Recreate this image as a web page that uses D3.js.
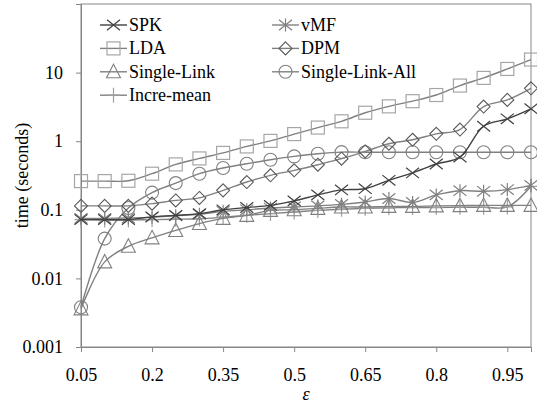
<!DOCTYPE html>
<html><head><meta charset="utf-8">
<script src="https://cdn.jsdelivr.net/npm/d3@7"></script>
<style>body{margin:0;background:#fff}svg{display:block}text{font-family:"Liberation Serif","Times New Roman",serif;fill:#000}</style>
</head><body><svg id="c" width="537" height="405"></svg>
<script>
const epsilons = [0.05,0.1,0.15,0.2,0.25,0.3,0.35,0.4,0.45,0.5,0.55,0.6,0.65,0.7,0.75,0.8,0.85,0.9,0.95,1.0];
const xTicks = [0.05,0.2,0.35,0.5,0.65,0.8,0.95];
const yTicks = [0.001,0.01,0.1,1,10];
const yTickLabels = ["0.001","0.01","0.1","1","10"];
const spk = [0.072,0.072,0.072,0.079,0.083,0.088,0.1,0.108,0.116,0.135,0.165,0.195,0.203,0.269,0.345,0.465,0.587,1.65,2.12,2.97];
const vmf = [0.075,0.075,0.076,0.078,0.082,0.086,0.095,0.1,0.106,0.11,0.114,0.12,0.13,0.146,0.128,0.165,0.19,0.186,0.197,0.227];
const lda = [0.262,0.262,0.265,0.336,0.459,0.561,0.675,0.839,1.01,1.27,1.58,1.95,2.6,3.22,3.83,4.71,6.47,8.37,11.3,15.5];
const dpm = [0.114,0.114,0.114,0.123,0.137,0.149,0.192,0.254,0.318,0.376,0.454,0.556,0.71,0.918,1.05,1.28,1.48,3.2,4.0,5.9];
const singleLink = [0.0036,0.0174,0.0294,0.039,0.05,0.063,0.075,0.083,0.098,0.1,0.105,0.11,0.11,0.112,0.112,0.114,0.115,0.116,0.116,0.116];
const singleLinkAll = [0.0038,0.038,0.106,0.178,0.245,0.336,0.406,0.47,0.537,0.6,0.656,0.693,0.69,0.69,0.69,0.69,0.69,0.69,0.69,0.69];
const increMean = [0.072,0.071,0.071,0.072,0.073,0.074,0.078,0.083,0.088,0.093,0.098,0.102,0.105,0.107,0.108,0.108,0.109,0.109,0.11,0.22];

const series = [
  {name:"SPK", values:spk, marker:"x", line:"#404040", mk:"#404040"},
  {name:"vMF", values:vmf, marker:"star", line:"#808080", mk:"#808080"},
  {name:"LDA", values:lda, marker:"square", line:"#808080", mk:"#a6a6a6"},
  {name:"DPM", values:dpm, marker:"diamond", line:"#808080", mk:"#595959"},
  {name:"Single-Link", values:singleLink, marker:"triangle", line:"#808080", mk:"#808080"},
  {name:"Single-Link-All", values:singleLinkAll, marker:"circle", line:"#808080", mk:"#808080"},
  {name:"Incre-mean", values:increMean, marker:"plus", line:"#808080", mk:"#a0a0a0"}
];

const svg = d3.select("#c");
const L=81, R=531, T=4, B=347;
const x = d3.scaleLinear().domain([0.05,1.0]).range([L,R]);
const y = d3.scaleLog().domain([0.001,100]).range([B,T]);

svg.append("rect").attr("x",L).attr("y",T).attr("width",R-L).attr("height",B-T)
  .attr("fill","none").attr("stroke","#868686").attr("stroke-width",1);

const yAxis = svg.append("g").attr("transform",`translate(${L},0)`)
  .call(d3.axisLeft(y).tickValues(yTicks).tickFormat((d,i)=>yTickLabels[i]).tickSize(5).tickPadding(13));
const xAxis = svg.append("g").attr("transform",`translate(0,${B})`)
  .call(d3.axisBottom(x).tickValues(xTicks).tickFormat(d=>String(d)).tickSize(5).tickPadding(16));
[yAxis,xAxis].forEach(g=>{
  g.select(".domain").attr("stroke","#868686");
  g.selectAll(".tick line").attr("stroke","#868686");
  g.selectAll(".tick text").attr("font-size",18).attr("font-family","Liberation Serif").attr("fill","#000");
});

svg.append("text").attr("transform",`translate(28,${(T+B)/2}) rotate(-90)`)
  .attr("text-anchor","middle").attr("font-size",18).text("time (seconds)");
svg.append("text").attr("x",(L+R)/2).attr("y",400).attr("text-anchor","middle")
  .attr("font-size",18).attr("font-style","italic").text("ε");

function drawMarker(g, type, cx, cy, color){
  const s = 6.5;
  if(type==="x"){
    g.append("path").attr("d",`M${cx-s},${cy-s*0.8}L${cx+s},${cy+s*0.8}M${cx-s},${cy+s*0.8}L${cx+s},${cy-s*0.8}`)
      .attr("stroke",color).attr("stroke-width",1.2).attr("fill","none");
  } else if(type==="star"){
    g.append("path").attr("d",`M${cx-s},${cy-s*0.8}L${cx+s},${cy+s*0.8}M${cx-s},${cy+s*0.8}L${cx+s},${cy-s*0.8}M${cx},${cy-s}L${cx},${cy+s}`)
      .attr("stroke",color).attr("stroke-width",1.2).attr("fill","none");
  } else if(type==="plus"){
    g.append("path").attr("d",`M${cx-s},${cy}L${cx+s},${cy}M${cx},${cy-s-1}L${cx},${cy+s+1}`)
      .attr("stroke",color).attr("stroke-width",1.2).attr("fill","none");
  } else if(type==="square"){
    g.append("rect").attr("x",cx-s).attr("y",cy-s).attr("width",2*s).attr("height",2*s)
      .attr("stroke",color).attr("stroke-width",1.2).attr("fill","none");
  } else if(type==="diamond"){
    g.append("path").attr("d",`M${cx},${cy-s}L${cx+s},${cy}L${cx},${cy+s}L${cx-s},${cy}Z`)
      .attr("stroke",color).attr("stroke-width",1.1).attr("fill","none");
  } else if(type==="triangle"){
    g.append("path").attr("d",`M${cx},${cy-s-1}L${cx+s+0.5},${cy+s-0.5}L${cx-s-0.5},${cy+s-0.5}Z`)
      .attr("stroke",color).attr("stroke-width",1.1).attr("fill","none");
  } else if(type==="circle"){
    g.append("circle").attr("cx",cx).attr("cy",cy).attr("r",s)
      .attr("stroke",color).attr("stroke-width",1.1).attr("fill","none");
  }
}

const line = d3.line().x((d,i)=>x(epsilons[i])).y(d=>y(d)).curve(d3.curveCatmullRom.alpha(0.5));
const plot = svg.append("g");
series.slice().reverse().forEach(s=>{
  const g = plot.append("g");
  g.append("path").attr("d",line(s.values)).attr("fill","none").attr("stroke",s.line).attr("stroke-width",1.4);
  s.values.forEach((v,i)=>drawMarker(g,s.marker,x(epsilons[i]),y(v),s.mk));
});

const leg = svg.append("g");
series.forEach((s,i)=>{
  const col = i%2, row = Math.floor(i/2);
  const lx = col===0 ? 100 : 272;
  const ly = 25 + row*23.4;
  const g = leg.append("g");
  g.append("line").attr("x1",lx).attr("x2",lx+27).attr("y1",ly).attr("y2",ly).attr("stroke",s.line).attr("stroke-width",1.4);
  drawMarker(g,s.marker,lx+13.5,ly,s.mk);
  g.append("text").attr("x",lx+29).attr("y",ly+6).attr("font-size",18).text(s.name);
});
</script></body></html>
